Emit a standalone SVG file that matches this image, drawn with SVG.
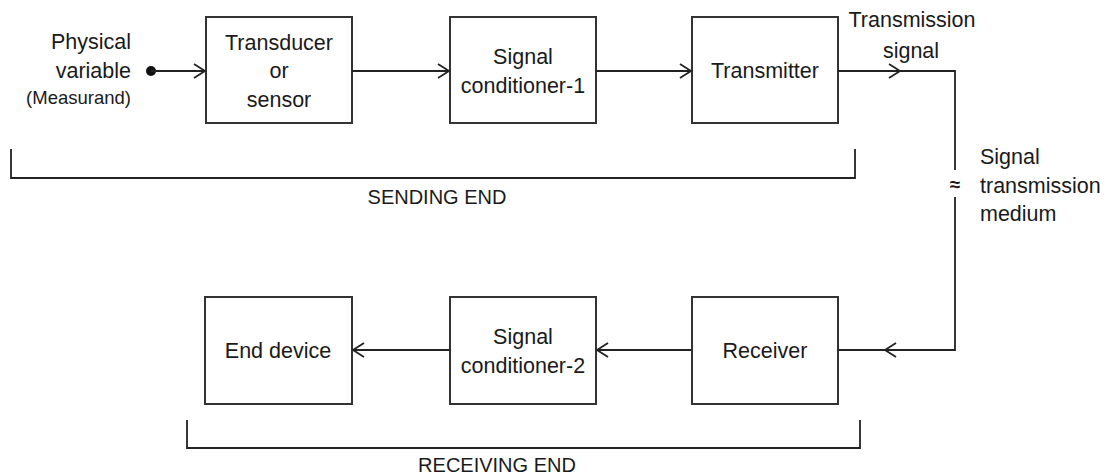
<svg xmlns="http://www.w3.org/2000/svg" width="1114" height="475" viewBox="0 0 1114 475">
<style>
.box{fill:#fff;stroke:#333;stroke-width:2}
.ln{fill:none;stroke:#222;stroke-width:1.8}
.ah{fill:none;stroke:#222;stroke-width:1.8}
text{font-family:"Liberation Sans",Arial,sans-serif;font-size:21.5px;fill:#1a1a1a}
.c{text-anchor:middle}
.r{text-anchor:end}
.sm{font-size:18.5px}
.end{font-size:20px}
</style>
<defs>
<marker id="arr" viewBox="-12 -8 14 16" refX="0" refY="0" markerWidth="14" markerHeight="16" markerUnits="userSpaceOnUse" orient="auto">
<path d="M-11,-7 L0,0 L-11,7" fill="none" stroke="#222" stroke-width="1.8"/>
</marker>
</defs>
<rect width="1114" height="475" fill="#fff"/>
<g id="input">
<text class="r" x="131" y="49">Physical</text>
<text class="r" x="131" y="78">variable</text>
<text class="r sm" x="131" y="104">(Measurand)</text>
<circle cx="151" cy="71" r="5" fill="#111"/>
</g>
<g id="transducer">
<rect class="box" x="206" y="17" width="146" height="106"/>
<text class="c" x="279" y="50">Transducer</text>
<text class="c" x="279" y="78">or</text>
<text class="c" x="279" y="107">sensor</text>
</g>
<g id="sc1">
<rect class="box" x="450" y="17" width="146" height="106"/>
<text class="c" x="523" y="64">Signal</text>
<text class="c" x="523" y="93">conditioner-1</text>
</g>
<g id="transmitter">
<rect class="box" x="692" y="17" width="146" height="106"/>
<text class="c" x="765" y="78">Transmitter</text>
</g>
<g id="enddevice">
<rect class="box" x="205" y="297" width="147" height="107"/>
<text class="c" x="278" y="358">End device</text>
</g>
<g id="sc2">
<rect class="box" x="450" y="297" width="146" height="107"/>
<text class="c" x="523" y="344">Signal</text>
<text class="c" x="523" y="373">conditioner-2</text>
</g>
<g id="receiver">
<rect class="box" x="692" y="297" width="146" height="107"/>
<text class="c" x="765" y="358">Receiver</text>
</g>
<g id="connectors">
<path class="ln" d="M151,71 H205" marker-end="url(#arr)"/>
<path class="ln" d="M352,71 H449" marker-end="url(#arr)"/>
<path class="ln" d="M596,71 H691" marker-end="url(#arr)"/>
<path class="ln" d="M838,71 H955 V170"/>
<path class="ah" d="M889,64 L900,71 L889,78"/>
<path class="ln" d="M955,197 V350 H838"/>
<path class="ah" d="M896,343 L885,350 L896,357"/>
<path class="ln" d="M691,350 H597" marker-end="url(#arr)"/>
<path class="ln" d="M450,350 H353" marker-end="url(#arr)"/>
</g>
<g id="labels">
<text class="c" x="912" y="27">Transmission</text>
<text class="c" x="911" y="58">signal</text>
<text class="c" x="955" y="191" style="font-size:19px;font-weight:bold">≈</text>
<text x="980" y="164">Signal</text>
<text x="980" y="193">transmission</text>
<text x="980" y="221">medium</text>
</g>
<g id="sending">
<path class="ln" d="M11,149 V178 H855 V149"/>
<text class="c end" x="437" y="204">SENDING END</text>
</g>
<g id="receiving">
<path class="ln" d="M187,420 V448 H860 V420"/>
<text class="c end" x="497" y="472">RECEIVING END</text>
</g>
</svg>
